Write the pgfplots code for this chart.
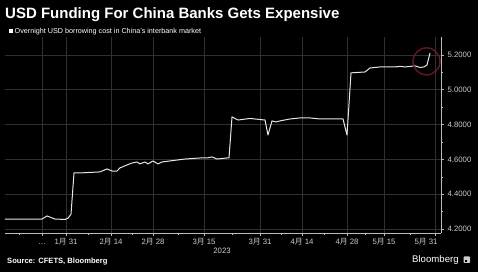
\documentclass[border=0pt]{standalone}
\usepackage{fontspec}
\setmainfont{Liberation Sans}
\newfontfamily\cjk{Noto Sans CJK SC}
\usepackage{pgfplots}
\pgfplotsset{compat=1.18}
\definecolor{gridc}{HTML}{303030}
\definecolor{tickc}{HTML}{CCCCCC}
\definecolor{axisc}{HTML}{BBBBBB}
\definecolor{ring}{HTML}{731C29}
\definecolor{linec}{HTML}{E6E6E6}
\newcommand{\yue}{{\cjk 月}}
\begin{document}
\begin{tikzpicture}[x=1pt,y=1pt]
\fill[black] (0,0) rectangle (478,272);
\begin{axis}[
  at={(5pt,39pt)}, anchor=south west,
  scale only axis, width=436pt, height=196pt,
  xmin=5, xmax=441, ymin=4.177, ymax=5.303,
  axis x line*=bottom, axis y line*=right,
  axis line style={draw=axisc, line width=0.6pt},
  x axis line style={-}, y axis line style={-},
  tick align=outside, major tick length=3pt, minor tick length=2pt,
  tick style={draw=axisc, line width=0.5pt},
  xtick={42,66,111,153,204,260,302,347,384},
  xticklabels={\vphantom{1\yue}\dots, 1\yue\ 31, 2\yue\ 14, 2\yue\ 28, 3\yue\ 15, 3\yue\ 31, 4\yue\ 14, 4\yue\ 28, 5\yue\ 15},
  extra x ticks={435},
  extra x tick labels={5\yue\ 31},
  extra x tick style={grid=major, xticklabel style={xshift=-9pt}},
  minor xtick={19,88,132,178,232,281,324,365,410},
  ytick={4.2,4.4,4.6,4.8,5.0,5.2},
  minor ytick={4.3,4.5,4.7,4.9,5.1},
  yticklabel style={/pgf/number format/.cd, fixed, fixed zerofill, precision=4, assume math mode=true},
  ticklabel style={font=\fontsize{7.8}{9}\selectfont, text=tickc},
  xticklabel style={yshift=1pt},
  xmajorgrids, ymajorgrids,
  major grid style={draw=gridc, line width=0.5pt},
  clip=false,
]
\addplot[linec, line width=1pt, line join=round, mark=none] coordinates {
(5,4.257) (42,4.257) (47,4.275) (55,4.257) (65,4.255) (68,4.262) (71,4.285) (74,4.522)
(80,4.522) (100,4.528) (107,4.545) (112,4.533) (117,4.533) (120,4.551) (127,4.568)
(132,4.579) (137,4.585) (140,4.574) (145,4.585) (148,4.574) (153,4.591) (158,4.574)
(162,4.585) (170,4.591) (185,4.602) (200,4.608) (207,4.608) (212,4.614) (217,4.602)
(227,4.608) (229,4.608) (232,4.844) (238,4.826) (250,4.835) (255,4.832) (265,4.826)
(268,4.740) (272,4.821) (276,4.815) (280,4.821) (290,4.832) (300,4.838) (310,4.838)
(320,4.832) (343,4.832) (347,4.740) (351,5.097) (365,5.102) (370,5.125) (380,5.131)
(395,5.131) (400,5.134) (405,5.131) (415,5.137) (420,5.128) (424,5.131) (427,5.142)
(430,5.211)
};
\draw[ring, line width=1.5pt, opacity=0.85] (axis cs:426.5,5.163) circle[radius=13.5pt];
\end{axis}
\node[anchor=base west, inner sep=0, text=white, font=\fontsize{15}{18}\selectfont\bfseries] at (5,253) {USD Funding For China Banks Gets Expensive};
\fill[white] (9,238.5) rectangle (13,243);
\node[anchor=base west, inner sep=0, text=white, font=\fontsize{7.2}{9}\selectfont] at (14.5,238.3) {Overnight USD borrowing cost in China's interbank market};
\node[anchor=base, inner sep=0, text=tickc, font=\fontsize{7.8}{9}\selectfont] at (222,18.5) {2023};
\node[anchor=base west, inner sep=0, text=white, font=\fontsize{7.6}{9}\selectfont\bfseries] at (7,8) {Source: CFETS, Bloomberg};
\node[anchor=base west, inner sep=0, text=white, font=\fontsize{9.6}{11}\selectfont] at (412,9) {Bloomberg};
\fill[tickc, rounded corners=0.8pt] (463.5,9) rectangle (470,15.5);
\fill[black] (464.8,10.2) rectangle (466.5,11.8);
\pgfresetboundingbox
\path (0,0) rectangle (478,272);
\end{tikzpicture}
\end{document}
